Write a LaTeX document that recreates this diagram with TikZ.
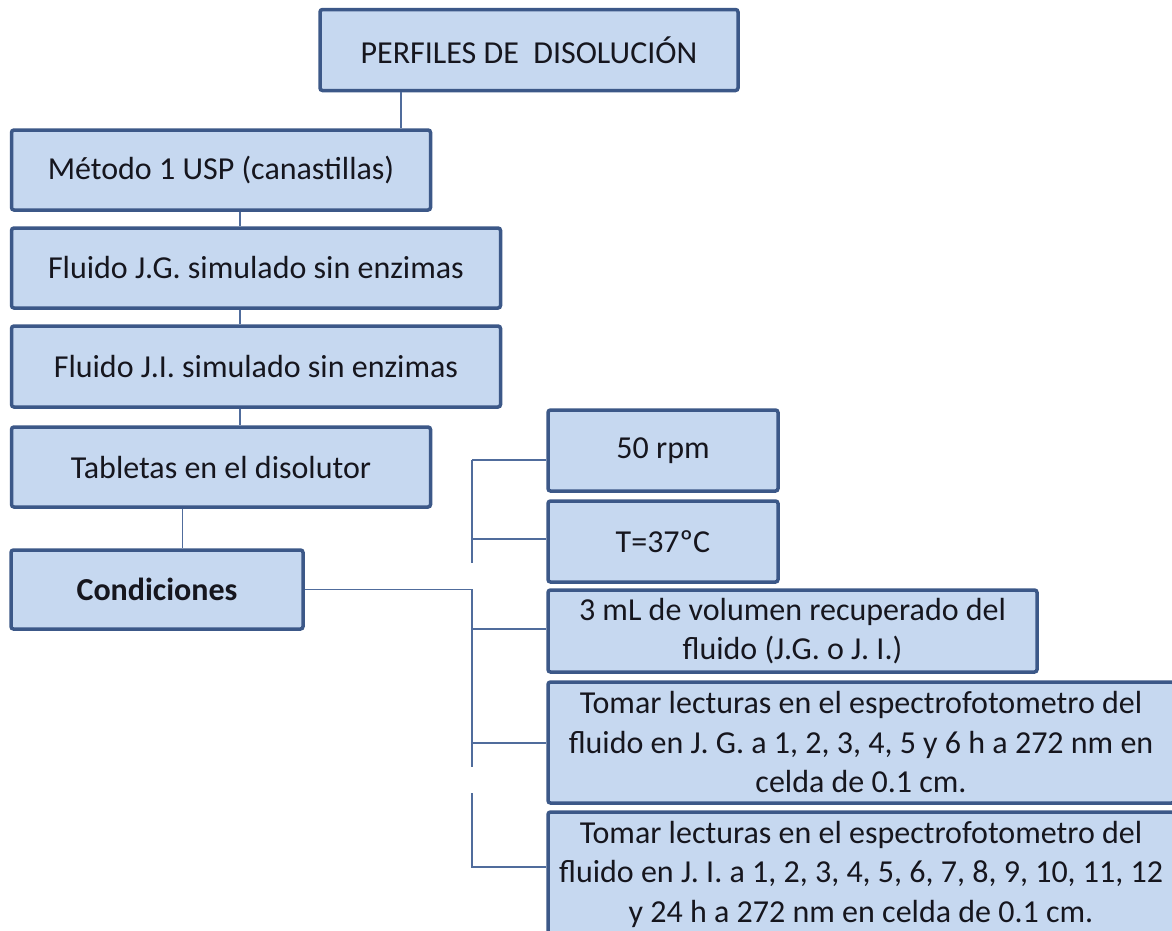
\documentclass[tikz,border=0pt]{standalone}
\usepackage{fontspec}
\setmainfont{Carlito}
\definecolor{boxfill}{RGB}{198,216,240}
\definecolor{boxborder}{RGB}{60,88,136}
\definecolor{conncol}{RGB}{80,108,156}
\definecolor{txtcol}{RGB}{22,22,30}
\tikzset{
  box/.style={rectangle, rounded corners=2.5pt, draw=boxborder, line width=3.5pt, fill=boxfill,
    text=txtcol, font=\fontsize{32}{39.5}\selectfont, align=center, inner sep=0pt},
  conn/.style={draw=conncol, line width=1.4pt}
}
\begin{document}
\begin{tikzpicture}[x=1pt,y=-1pt]
\useasboundingbox (0,0) rectangle (1172,930);
\fill[white] (0,0) rectangle (1172,930);
\clip (0,0) rectangle (1172,930);

% left column
\node[box, minimum width=418pt, minimum height=81pt] (top) at (529,50) {PERFILES DE\ \ DISOLUCIÓN};
\node[box, minimum width=419pt, minimum height=80pt] (metodo) at (221,170) {Método 1 USP (canastillas)};
\node[box, minimum width=489pt, minimum height=80pt] (fjg) at (256,268) {Fluido J.G. simulado sin enzimas};
\node[box, minimum width=489pt, minimum height=81pt] (fji) at (256,366.5) {Fluido J.I. simulado sin enzimas};
\node[box, minimum width=419pt, minimum height=80pt] (tab) at (221,467) {Tabletas en el disolutor};
\node[box, minimum width=292pt, minimum height=79pt] (cond) at (157,589.5) {\bfseries Condiciones};

% right column
\node[box, minimum width=230pt, minimum height=81pt] (rpm) at (663,450.5) {50 rpm};
\node[box, minimum width=230pt, minimum height=81pt] (temp) at (663,541.5) {T=37ºC};
\node[box, minimum width=489pt, minimum height=82pt] (vol) at (792.5,631) {3 mL de volumen recuperado del\\fluido (J.G. o J. I.)};
\node[box, minimum width=626pt, minimum height=121pt] (t1) at (861,742.5) {Tomar lecturas en el espectrofotometro del\\fluido en J. G. a 1, 2, 3, 4, 5 y 6 h a 272 nm en\\celda de 0.1 cm.};
\node[box, minimum width=626pt, minimum height=124pt] (t2) at (861,874) {Tomar lecturas en el espectrofotometro del\\fluido en J. I. a 1, 2, 3, 4, 5, 6, 7, 8, 9, 10, 11, 12\\y 24 h a 272 nm en celda de 0.1 cm.};

% connector reference coordinates
\coordinate (xa) at (401,0);
\coordinate (xb) at (240,0);
\coordinate (xc) at (182.5,0);
\coordinate (b1) at (472,460);
\coordinate (b2) at (472,563);
\coordinate (b3) at (472,539);
\coordinate (b4) at (472,589.5);
\coordinate (b5) at (472,629);
\coordinate (b6) at (472,743);
\coordinate (b7) at (472,767);
\coordinate (b8) at (472,793);
\coordinate (b9) at (472,867);

% vertical chain
\draw[conn] (top.south -| xa) -- (metodo.north -| xa);
\draw[conn] (metodo.south -| xb) -- (fjg.north -| xb);
\draw[conn] (fjg.south -| xb) -- (fji.north -| xb);
\draw[conn] (fji.south -| xb) -- (tab.north -| xb);
\draw[conn] (tab.south -| xc) -- (cond.north -| xc);

% bracket to the conditions
\draw[conn] (b1) -- (b2);
\draw[conn] (b1) -- (rpm.west |- b1);
\draw[conn] (b3) -- (temp.west |- b3);
\draw[conn] (cond.east) -- (b4) -- (b7);
\draw[conn] (b5) -- (vol.west |- b5);
\draw[conn] (b6) -- (t1.west |- b6);
\draw[conn] (b8) -- (b9) -- (t2.west |- b9);
\end{tikzpicture}
\end{document}
